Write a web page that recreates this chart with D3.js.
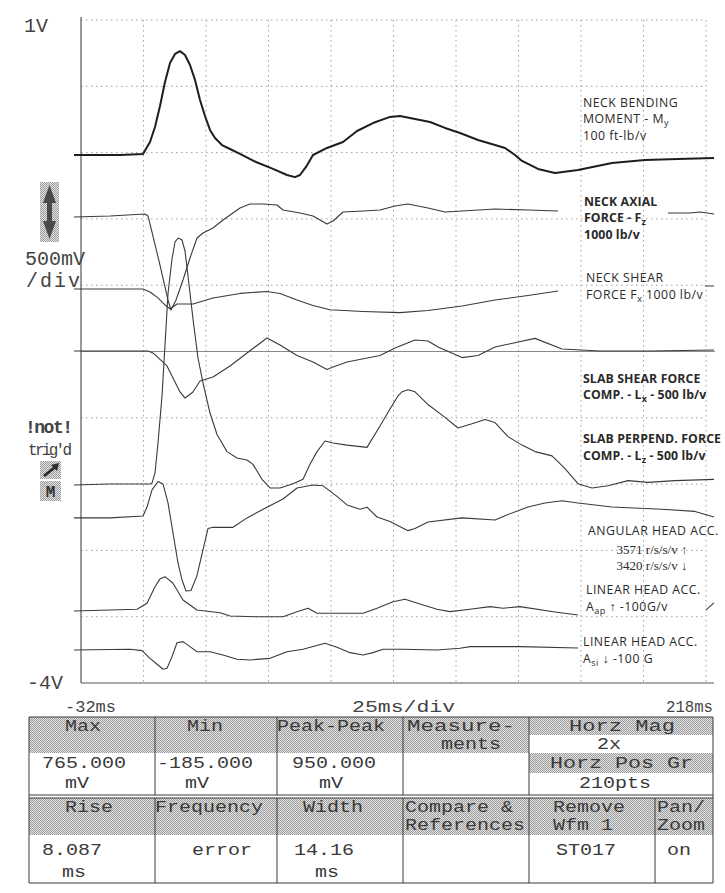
<!DOCTYPE html>
<html><head><meta charset="utf-8">
<script src="https://cdn.jsdelivr.net/npm/d3@7"></script>
<style>body{margin:0;background:#fff}</style>
</head><body>
<svg id="c" width="725" height="893"></svg>
<script>
// ---------- DATA (time ms, volts) ----------
const timeDomain = [-32, 218];
const voltDomain = [1, -4];
const timeLabels = ["-32ms", "25ms/div", "218ms"];
const voltLabels = ["1V", "-4V"];
const scaleLabels = ["500mV", "/div"];

const neckBending = [[-34.8,-0.018],[-24.4,-0.018],[-16.4,-0.018],[-7.2,-0.010],[-4.4,0.080],[-2.4,0.193],[-0.4,0.352],[1.6,0.532],[3.6,0.676],[5.6,0.744],[7.6,0.765],[9.6,0.736],[11.6,0.661],[13.6,0.548],[15.6,0.397],[17.6,0.276],[19.6,0.171],[21.6,0.110],[24.4,0.057],[27.6,0.027],[31.6,-0.010],[38.0,-0.071],[44.8,-0.123],[50.4,-0.169],[53.6,-0.185],[55.6,-0.169],[58.0,-0.108],[60.8,-0.018],[66.4,0.035],[72.8,0.080],[78.4,0.163],[84.8,0.223],[91.6,0.269],[95.6,0.276],[101.6,0.253],[107.6,0.231],[113.6,0.186],[119.6,0.148],[126.8,0.095],[133.6,0.057],[137.6,0.035],[141.6,-0.018],[144.4,-0.063],[150.8,-0.123],[157.6,-0.154],[166.8,-0.131],[180.4,-0.078],[193.6,-0.056],[206.8,-0.048],[221.2,-0.041]];

const neckAxial = [[-34.8,-0.486],[-20.4,-0.478],[-6.4,-0.463],[-5.2,-0.478],[-3.6,-0.599],[-0.4,-0.848],[2.8,-1.112],[4.0,-1.187],[6.0,-1.112],[8.8,-0.961],[11.6,-0.795],[14.4,-0.644],[16.8,-0.606],[20.8,-0.569],[24.8,-0.508],[31.6,-0.418],[35.6,-0.388],[40.8,-0.388],[46.4,-0.395],[48.8,-0.433],[55.6,-0.455],[60.8,-0.478],[66.4,-0.538],[68.8,-0.516],[72.8,-0.448],[80.8,-0.440],[87.6,-0.433],[93.6,-0.403],[98.8,-0.388],[106.8,-0.418],[113.6,-0.448],[120.4,-0.440],[133.6,-0.425],[146.8,-0.433],[158.8,-0.440],null,[202.8,-0.455],[211.6,-0.455],[215.6,-0.448],[221.2,-0.463]];

const neckShear = [[-34.8,-1.029],[-20.4,-1.029],[-7.2,-1.029],[-4.4,-1.051],[-1.2,-1.096],[1.6,-1.149],[3.6,-1.179],[6.4,-1.142],[12.8,-1.142],[20.8,-1.096],[31.6,-1.062],[42.4,-1.047],[47.6,-1.062],[54.4,-1.112],[60.8,-1.153],[67.6,-1.185],[80.8,-1.198],[95.6,-1.207],[106.8,-1.191],[120.4,-1.157],[133.6,-1.112],[146.8,-1.078],[158.8,-1.044],null,[217.6,-1.006],[221.2,-1.006]];

const slabShear = [[-34.8,-1.496],[-20.4,-1.496],[-5.2,-1.496],[-3.2,-1.511],[2.4,-1.609],[7.6,-1.805],[9.6,-1.851],[12.8,-1.805],[15.6,-1.722],[20.8,-1.692],[27.6,-1.609],[34.4,-1.511],[42.4,-1.398],[47.6,-1.451],[54.4,-1.530],[60.8,-1.579],[66.4,-1.636],[68.8,-1.617],[74.4,-1.579],[87.6,-1.530],[93.6,-1.474],[101.6,-1.413],[106.8,-1.421],[110.8,-1.466],[120.4,-1.546],[126.8,-1.530],[133.6,-1.466],[149.6,-1.401],[160.4,-1.481],[175.6,-1.496],[195.6,-1.496],[221.2,-1.489]];

const slabPerpend = [[-34.8,-2.507],[-20.4,-2.499],[-4.4,-2.499],[-3.6,-2.492],[-2.4,-2.416],[-1.2,-2.190],[0.4,-1.835],[1.6,-1.451],[2.8,-1.063],[4.4,-0.802],[5.6,-0.674],[6.9,-0.644],[8.4,-0.659],[9.6,-0.742],[10.8,-0.931],[12.8,-1.255],[14.8,-1.549],[16.8,-1.737],[19.6,-1.964],[22.4,-2.126],[26.4,-2.255],[30.4,-2.303],[34.4,-2.318],[36.8,-2.351],[40.4,-2.464],[43.6,-2.529],[47.6,-2.529],[52.8,-2.497],[56.8,-2.464],[59.6,-2.351],[62.4,-2.255],[65.6,-2.175],[68.8,-2.190],[74.4,-2.206],[82.4,-2.223],[87.6,-2.062],[91.6,-1.934],[94.8,-1.835],[96.4,-1.804],[98.8,-1.788],[101.6,-1.804],[106.8,-1.900],[113.6,-1.997],[118.8,-2.077],[124.4,-2.045],[129.6,-2.013],[133.6,-2.036],[138.8,-2.142],[144.4,-2.206],[149.6,-2.255],[156.4,-2.287],[161.6,-2.384],[166.8,-2.497],[172.4,-2.529],[178.8,-2.513],[186.8,-2.474],[194.8,-2.487],[205.6,-2.474],[221.2,-2.464]];

const angularHead = [[-34.8,-2.755],[-20.4,-2.755],[-7.2,-2.740],[-5.6,-2.673],[-3.6,-2.544],[-1.2,-2.480],[0.8,-2.499],[2.8,-2.642],[4.8,-2.869],[6.8,-3.095],[8.4,-3.223],[10.0,-3.306],[12.0,-3.302],[14.4,-3.190],[16.4,-3.027],[18.8,-2.835],[20.8,-2.826],[28.8,-2.826],[34.4,-2.755],[42.4,-2.674],[48.8,-2.612],[54.4,-2.529],[60.8,-2.507],[64.8,-2.513],[70.4,-2.593],[74.4,-2.657],[79.6,-2.690],[82.4,-2.674],[86.4,-2.748],[91.6,-2.782],[98.8,-2.851],[101.6,-2.835],[106.8,-2.786],[120.4,-2.755],[133.6,-2.771],[137.6,-2.738],[146.8,-2.673],[153.6,-2.642],[160.4,-2.626],[166.8,-2.642],[180.4,-2.673],[200.4,-2.690],[213.6,-2.706],[221.2,-2.748]];

const linearAp = [[-34.8,-3.457],[-9.6,-3.444],[-5.6,-3.399],[-2.4,-3.274],[-0.4,-3.215],[1.6,-3.198],[4.8,-3.248],[8.8,-3.374],[14.4,-3.449],[23.6,-3.470],[27.6,-3.495],[38.4,-3.500],[48.8,-3.500],[54.4,-3.462],[58.8,-3.436],[62.4,-3.474],[70.4,-3.474],[80.8,-3.474],[86.4,-3.436],[92.8,-3.387],[97.6,-3.369],[103.6,-3.404],[110.4,-3.444],[115.6,-3.462],[123.6,-3.444],[131.6,-3.424],[136.8,-3.436],[143.6,-3.424],[157.6,-3.464],[166.8,-3.487],null,[218.0,-3.449],[221.2,-3.396]];

const linearSi = [[-34.8,-3.751],[-12.4,-3.746],[-7.6,-3.756],[-4.4,-3.814],[-1.2,-3.864],[0.8,-3.896],[2.4,-3.889],[4.4,-3.801],[6.4,-3.696],[8.8,-3.688],[11.6,-3.726],[14.4,-3.764],[19.6,-3.764],[24.8,-3.789],[30.4,-3.821],[35.6,-3.826],[43.6,-3.814],[50.4,-3.764],[56.8,-3.746],[65.6,-3.700],[70.4,-3.731],[75.6,-3.771],[80.8,-3.789],[84.8,-3.771],[88.8,-3.746],[96.8,-3.746],[110.4,-3.751],[119.6,-3.738],[123.6,-3.726],[143.6,-3.726],[166.8,-3.736]];

const traces = [
  {name:"neckBending", data: neckBending, w: 2.0, c: "#1e1e1e"},
  {name:"neckAxial", data: neckAxial, w: 1.1, c: "#3a3a3a"},
  {name:"neckShear", data: neckShear, w: 1.1, c: "#3a3a3a"},
  {name:"slabShear", data: slabShear, w: 1.1, c: "#3a3a3a"},
  {name:"slabPerpend", data: slabPerpend, w: 1.1, c: "#3a3a3a"},
  {name:"angularHead", data: angularHead, w: 1.1, c: "#3a3a3a"},
  {name:"linearAp", data: linearAp, w: 1.1, c: "#3a3a3a"},
  {name:"linearSi", data: linearSi, w: 1.1, c: "#3a3a3a"}
];

// measurement table contents
const hdrTop = ["Max", "Min", "Peak-Peak", "Measure-"];
const hdrTop2 = ["", "", "", "ments"];
const valTop = ["765.000", "-185.000", "950.000", ""];
const unitTop = ["mV", "mV", "mV", ""];
const horzCells = ["Horz Mag", "2x", "Horz Pos Gr", "210pts"];
const hdrBot = ["Rise", "Frequency", "Width", "Compare &", "Remove", "Pan/"];
const hdrBot2 = ["", "", "", "References", "Wfm 1", "Zoom"];
const valBot = ["8.087", "error", "14.16", "", "ST017", "on"];
const unitBot = ["ms", "", "ms", "", "", ""];

// ---------- DRAW ----------
const svg = d3.select("#c");
const x = d3.scaleLinear().domain(timeDomain).range([81, 706]);
const y = d3.scaleLinear().domain(voltDomain).range([20, 683]);

const defs = svg.append("defs");
const pat = defs.append("pattern").attr("id","hatch").attr("width",2).attr("height",2).attr("patternUnits","userSpaceOnUse");
pat.append("rect").attr("width",2).attr("height",2).attr("fill","#e2e2e2");
pat.append("rect").attr("width",1).attr("height",1).attr("fill","#9c9c9c");
pat.append("rect").attr("x",1).attr("y",1).attr("width",1).attr("height",1).attr("fill","#9c9c9c");

const mono = "'Liberation Mono', 'DejaVu Sans Mono', monospace";
const sans = "'Open Sans', 'Noto Sans', sans-serif";

// grid
const gGrid = svg.append("g");
const vTicks = d3.range(1, 11).map(k => timeDomain[0] + 25 * k);
gGrid.selectAll("line.v").data(vTicks).join("line")
  .attr("x1", d => x(d)).attr("x2", d => x(d)).attr("y1", y(1)).attr("y2", y(-4))
  .attr("stroke", "#a0a0a0").attr("stroke-width", 1).attr("stroke-dasharray", "1.5,3.5");
const hTicks = d3.range(0, 10).map(k => 1 - 0.5 * k).filter(v => v !== -1.5);
gGrid.selectAll("line.h").data(hTicks).join("line")
  .attr("x1", x(-32)).attr("x2", x(218)).attr("y1", d => y(d)).attr("y2", d => y(d))
  .attr("stroke", "#a0a0a0").attr("stroke-width", 1).attr("stroke-dasharray", "1.5,3.5");
gGrid.append("line").attr("x1", x(-32)).attr("x2", 715).attr("y1", y(-1.5)).attr("y2", y(-1.5))
  .attr("stroke", "#8a8a8a").attr("stroke-width", 1);
gGrid.append("line").attr("x1", x(-32)).attr("x2", x(-32)).attr("y1", y(1) - 3).attr("y2", y(-4))
  .attr("stroke", "#555").attr("stroke-width", 1.2);
gGrid.append("line").attr("x1", x(-32)).attr("x2", 714).attr("y1", y(-4)).attr("y2", y(-4))
  .attr("stroke", "#555").attr("stroke-width", 1.2);

// traces
const line = d3.line().defined(d => d !== null).x(d => x(d[0])).y(d => y(d[1]));
svg.append("g").selectAll("path").data(traces).join("path")
  .attr("d", d => line(d.data)).attr("fill", "none")
  .attr("stroke", d => d.c).attr("stroke-width", d => d.w).attr("stroke-linejoin", "round");

// left scale labels
const gl = svg.append("g").attr("font-family", mono).attr("fill", "#444").attr("font-size", 20);
gl.append("text").attr("x", 24).attr("y", 32).text(voltLabels[0]);
gl.append("text").attr("x", 25).attr("y", 265).text(scaleLabels[0]);
gl.append("text").attr("x", 26).attr("y", 287).attr("textLength", 54).attr("lengthAdjust", "spacing").text(scaleLabels[1]);
gl.append("text").attr("x", 27).attr("y", 689).text(voltLabels[1]);
const gTime = svg.append("g").attr("font-family", mono).attr("fill", "#444").attr("font-size", 16);
gTime.append("text").attr("x", 65).attr("y", 712).attr("textLength", 51).attr("lengthAdjust", "spacingAndGlyphs").text(timeLabels[0]);
gTime.append("text").attr("x", 352).attr("y", 712).attr("textLength", 103).attr("lengthAdjust", "spacingAndGlyphs").text(timeLabels[1]);
gTime.append("text").attr("x", 713).attr("y", 712).attr("text-anchor", "end").attr("textLength", 47).attr("lengthAdjust", "spacingAndGlyphs").text(timeLabels[2]);
gl.append("text").attr("x", 25).attr("y", 433).attr("font-size", 18).attr("font-weight", "bold").attr("textLength", 48).text("!not!");
gl.append("text").attr("x", 28).attr("y", 455).attr("font-size", 16).attr("textLength", 44).text("trig'd");

// double arrow box
svg.append("rect").attr("x", 40).attr("y", 182).attr("width", 19).attr("height", 60).attr("fill", "url(#hatch)");
svg.append("path").attr("d", "M49.5,185 L56,203 L52,203 L52,221 L56,221 L49.5,239 L43,221 L47,221 L47,203 L43,203 Z")
  .attr("fill", "#4a4a4a");
// trigger arrow box
svg.append("rect").attr("x", 40).attr("y", 461).attr("width", 21).attr("height", 18).attr("fill", "url(#hatch)");
svg.append("path").attr("d", "M43,475 L53,467 L51,465 L59,463 L57,471 L55,469 L45,477 Z").attr("fill", "#2e2e2e");
svg.append("rect").attr("x", 40).attr("y", 481).attr("width", 21).attr("height", 20).attr("fill", "url(#hatch)");
svg.append("text").attr("x", 50.5).attr("y", 497).attr("text-anchor", "middle").attr("font-family", mono)
  .attr("font-size", 16).attr("font-weight", "bold").attr("fill", "#333").text("M");

// channel labels
const labels = [
  {x: 583, y: 107, b: false, parts: [["NECK BENDING"]]},
  {x: 583, y: 123, b: false, parts: [["MOMENT - M"], ["y", "sub"]]},
  {x: 583, y: 140, b: false, parts: [["100 ft-lb/v"]]},
  {x: 584, y: 206, b: true, parts: [["NECK AXIAL"]]},
  {x: 584, y: 222, b: true, parts: [["FORCE - F"], ["z", "sub"]]},
  {x: 584, y: 239, b: true, parts: [["1000 lb/v"]]},
  {x: 586, y: 282, b: false, parts: [["NECK SHEAR"]]},
  {x: 586, y: 299, b: false, parts: [["FORCE F"], ["x", "sub"], [" 1000 lb/v"]]},
  {x: 583, y: 383, b: true, parts: [["SLAB SHEAR FORCE"]]},
  {x: 583, y: 399, b: true, parts: [["COMP. - L"], ["x", "sub"], [" - 500 lb/v"]]},
  {x: 583, y: 443, b: true, parts: [["SLAB PERPEND. FORCE"]]},
  {x: 583, y: 460, b: true, parts: [["COMP. - L"], ["z", "sub"], [" - 500 lb/v"]]},
  {x: 588, y: 535, b: false, parts: [["ANGULAR HEAD ACC."]]},
  {x: 586, y: 594, b: false, parts: [["LINEAR HEAD ACC."]]},
  {x: 586, y: 611, b: false, parts: [["A"], ["ap", "sub"], [" \u2191 -100G/v"]]},
  {x: 583, y: 646, b: false, parts: [["LINEAR HEAD ACC."]]},
  {x: 583, y: 663, b: false, parts: [["A"], ["si", "sub"], [" \u2193 -100 G"]]}
];
const gLab = svg.append("g").attr("font-family", sans).attr("font-size", 12.3).attr("fill", "#2a2a2a");
labels.forEach(l => {
  const t = gLab.append("text").attr("x", l.x).attr("y", l.y).attr("font-weight", l.b ? 700 : 400)
    .attr("letter-spacing", l.b ? 0.1 : 0.5);
  l.parts.forEach(p => {
    const ts = t.append("tspan").text(p[0]);
    if (p[1] === "sub") ts.attr("font-size", 9).attr("dy", 3);
    else if (ts.node().previousSibling) ts.attr("dy", -3);
  });
});
const gSer = svg.append("g").attr("font-family", "'Liberation Serif', serif").attr("font-size", 13).attr("fill", "#2a2a2a");
gSer.append("text").attr("x", 652).attr("y", 554).attr("text-anchor", "middle").text("3571 r/s/s/v \u2191");
gSer.append("text").attr("x", 652).attr("y", 570).attr("text-anchor", "middle").text("3420 r/s/s/v \u2193");

// ---------- TABLE ----------
const L = 29, R = 713, colX = [L, 155, 277, 403, 529, R], c5 = 655;
const T = 717, r1 = 735, r2 = 753, r3 = 773, r4 = 795, r5 = 798, r6 = 835, B = 883;
const gT = svg.append("g");
gT.append("rect").attr("x", L).attr("y", T).attr("width", colX[4] - L).attr("height", r2 - T).attr("fill", "url(#hatch)");
gT.append("rect").attr("x", colX[4]).attr("y", T).attr("width", R - colX[4]).attr("height", r1 - T).attr("fill", "url(#hatch)");
gT.append("rect").attr("x", colX[4]).attr("y", r2).attr("width", R - colX[4]).attr("height", r3 - r2).attr("fill", "url(#hatch)");
gT.append("rect").attr("x", L).attr("y", r5).attr("width", R - L).attr("height", r6 - r5).attr("fill", "url(#hatch)");
const tl = (x1, y1, x2, y2, w) => gT.append("line").attr("x1", x1).attr("y1", y1).attr("x2", x2).attr("y2", y2)
  .attr("stroke", "#3a3a3a").attr("stroke-width", w || 1);
tl(L, T, R, T); tl(L, B, R, B); tl(L, T, L, B); tl(R, T, R, B);
tl(L, r4, R, r4, 1.2); tl(L, r5, R, r5, 1.2);
[1, 2, 3, 4].forEach(i => { tl(colX[i], T, colX[i], r4); tl(colX[i], r5, colX[i], B); });
tl(c5, r5, c5, B);

// wide oscilloscope font: 16px glyphs stretched to ~12px per character
const gTx = svg.append("g").attr("font-family", mono).attr("font-size", 16).attr("fill", "#3a3a3a");
function cell(txt, xx, yy, len) {
  if (!txt) return;
  gTx.append("text").attr("x", xx).attr("y", yy).text(txt)
    .attr("textLength", len || txt.length * 12).attr("lengthAdjust", "spacingAndGlyphs");
}
const bA = 731, bB = 749, bC = 768, bD = 788, bE = 812, bF = 830, bG = 855, bH = 877;
[65, 187, 277, 407].forEach((xx, i) => cell(hdrTop[i], xx, bA, i === 3 ? 108 : 0));
cell(hdrTop2[3], 441, bB);
[42, 157, 292].forEach((xx, i) => cell(valTop[i], xx, bC));
[65, 185, 319].forEach((xx, i) => cell(unitTop[i], xx, bD));
cell(horzCells[0], 569, bA, 106);
cell(horzCells[1], 597, bB);
cell(horzCells[2], 550, bC, 143);
cell(horzCells[3], 579, bD);
[65, 155, 303, 405, 553, 657].forEach((xx, i) => cell(hdrBot[i], xx, bE));
[0, 0, 0, 405, 553, 657].forEach((xx, i) => cell(hdrBot2[i], xx, bF));
[42, 192, 294, 0, 556, 667].forEach((xx, i) => cell(valBot[i], xx, bG));
[62, 0, 315].forEach((xx, i) => cell(unitBot[i], xx, bH));
</script>
</body></html>
